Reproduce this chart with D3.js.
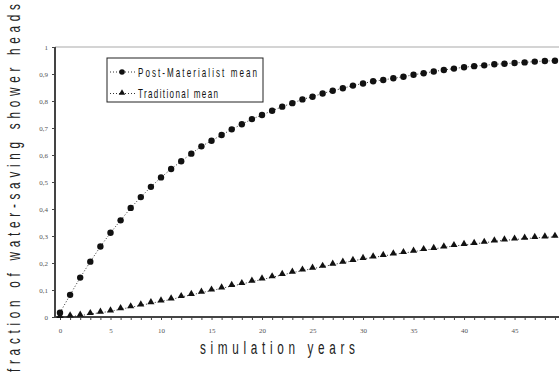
<!DOCTYPE html>
<html>
<head>
<meta charset="utf-8">
<script src="https://cdn.jsdelivr.net/npm/d3@7"></script>
<style>
  body { margin: 0; background: #fff; }
  svg { display: block; }
  .axis path, .axis line { stroke: #444; }
  .axis text { font-family: "Liberation Serif", serif; font-size: 7px; fill: #555; }
  .title { font-family: "Liberation Sans", sans-serif; font-size: 19px; fill: #222; }
  .legend text { font-family: "Liberation Sans", sans-serif; font-size: 13px; fill: #111; }
</style>
</head>
<body>
<svg width="559" height="376"></svg>
<script>
// simulation years 0..49
var years = d3.range(0, 50);

var postMaterialist = [
  0.016, 0.082, 0.146, 0.205, 0.261, 0.312, 0.358, 0.404, 0.444, 0.482,
  0.517, 0.548, 0.577, 0.605, 0.632, 0.653, 0.674, 0.695, 0.714, 0.733,
  0.748, 0.764, 0.779, 0.792, 0.806, 0.816, 0.828, 0.838, 0.847, 0.857,
  0.865, 0.873, 0.878, 0.884, 0.890, 0.897, 0.903, 0.909, 0.915, 0.920,
  0.925, 0.929, 0.932, 0.936, 0.938, 0.941, 0.943, 0.946, 0.948, 0.949
];

var traditional = [
  0.000, 0.002, 0.005, 0.011, 0.016, 0.021, 0.029, 0.036, 0.043, 0.051,
  0.058, 0.065, 0.074, 0.082, 0.090, 0.098, 0.106, 0.115, 0.122, 0.131,
  0.139, 0.147, 0.156, 0.164, 0.172, 0.179, 0.186, 0.194, 0.201, 0.208,
  0.215, 0.221, 0.226, 0.232, 0.237, 0.242, 0.248, 0.252, 0.258, 0.263,
  0.267, 0.271, 0.275, 0.280, 0.284, 0.287, 0.290, 0.293, 0.295, 0.297
];

var yTicks = [0, 0.1, 0.2, 0.3, 0.4, 0.5, 0.6, 0.7, 0.8, 0.9, 1];
var yTickLabels = ["0", "0,1", "0,2", "0,3", "0,4", "0,5", "0,6", "0,7", "0,8", "0,9", "1"];
var xLabelYears = [0, 5, 10, 15, 20, 25, 30, 35, 40, 45];

var seriesNames = ["Post-Materialist mean", "Traditional mean"];

var margin = {top: 47, left: 60, right: 0, bottom: 59};
var squeeze = 0.62; // narrow look of the original font

var svg = d3.select("svg");
var width = parseInt(svg.attr("width"));
var height = parseInt(svg.attr("height"));

var x = d3.scaleLinear().domain([0, 49.4]).range([margin.left, width - margin.right]);
var y = d3.scaleLinear().domain([0, 1]).range([height - margin.bottom, margin.top]);

// narrow, widely spaced text: squeeze the glyphs, spread the letters
function narrowText(parent, cls, tx, ty, rot, len, str) {
    var g = parent.append("g")
        .attr("transform", "translate(" + tx + "," + ty + ")" + (rot ? " rotate(" + rot + ")" : "") + " scale(" + squeeze + ",1)");
    g.append("text")
        .attr("class", cls)
        .attr("x", 0).attr("y", 0)
        .attr("textLength", len / squeeze)
        .attr("lengthAdjust", "spacing")
        .text(str);
    return g;
}

// top border of plot area
svg.append("line")
    .attr("x1", x(0) - 5).attr("x2", width)
    .attr("y1", y(1)).attr("y2", y(1))
    .attr("stroke", "#d4d4d4").attr("stroke-width", 2);

// x axis
var xAxis = svg.append("g")
    .attr("class", "axis")
    .attr("transform", "translate(0," + y(0) + ")")
    .call(d3.axisBottom(x)
        .tickValues(years)
        .tickSize(3)
        .tickPadding(8)
        .tickFormat(function(d) { return xLabelYears.indexOf(d) >= 0 ? d : ""; }));
xAxis.select(".domain").attr("d", "M" + (x(0) - 5) + ",0H" + width).attr("stroke-width", 2);

// y axis
var yAxis = svg.append("g")
    .attr("class", "axis")
    .attr("transform", "translate(" + (x(0) - 5) + ",0)")
    .call(d3.axisLeft(y)
        .tickValues(yTicks)
        .tickSize(3)
        .tickPadding(4)
        .tickFormat(function(d, i) { return yTickLabels[i]; }));
yAxis.select(".domain").attr("d", "M0," + y(1) + "V" + y(0)).attr("stroke-width", 2);

// series
var line = d3.line()
    .x(function(d, i) { return x(years[i]); })
    .y(function(d) { return y(d); });

var tri = d3.symbol().type(d3.symbolTriangle).size(22);

[postMaterialist, traditional].forEach(function(vals, s) {
    svg.append("path")
        .datum(vals)
        .attr("d", line)
        .attr("fill", "none")
        .attr("stroke", "#333")
        .attr("stroke-width", 1)
        .attr("stroke-dasharray", "1,2");

    if (s == 0) {
        svg.selectAll(".pm")
            .data(vals)
            .enter().append("circle")
                .attr("cx", function(d, i) { return x(years[i]); })
                .attr("cy", function(d) { return y(d); })
                .attr("r", 3.2)
                .attr("fill", "#111");
    } else {
        svg.selectAll(".tr")
            .data(vals)
            .enter().append("path")
                .attr("d", tri)
                .attr("transform", function(d, i) { return "translate(" + x(years[i]) + "," + (y(d) - 1) + ")"; })
                .attr("fill", "#111");
    }
});

// legend
var lg = svg.append("g").attr("class", "legend");
lg.append("rect")
    .attr("x", 107).attr("y", 58)
    .attr("width", 156).attr("height", 44)
    .attr("fill", "#fff").attr("stroke", "#222").attr("stroke-width", 1);

seriesNames.forEach(function(name, i) {
    var ly = 72 + i * 21.5;
    lg.append("line")
        .attr("x1", 110).attr("x2", 135)
        .attr("y1", ly).attr("y2", ly)
        .attr("stroke", "#333").attr("stroke-dasharray", "1,2");
    if (i == 0) {
        lg.append("circle").attr("cx", 122).attr("cy", ly).attr("r", 2.8).attr("fill", "#111");
    } else {
        lg.append("path").attr("d", d3.symbol().type(d3.symbolTriangle).size(18))
            .attr("transform", "translate(122," + (ly - 0.5) + ")").attr("fill", "#111");
    }
    narrowText(lg, "", 138, ly + 4.5, 0, i == 0 ? 119 : 80, name);
});

// axis titles
narrowText(svg, "title", 200, 354, 0, 155, "simulation years");
narrowText(svg, "title", 20, 372, -90, 368, "fraction of water-saving shower heads");
</script>
</body>
</html>
